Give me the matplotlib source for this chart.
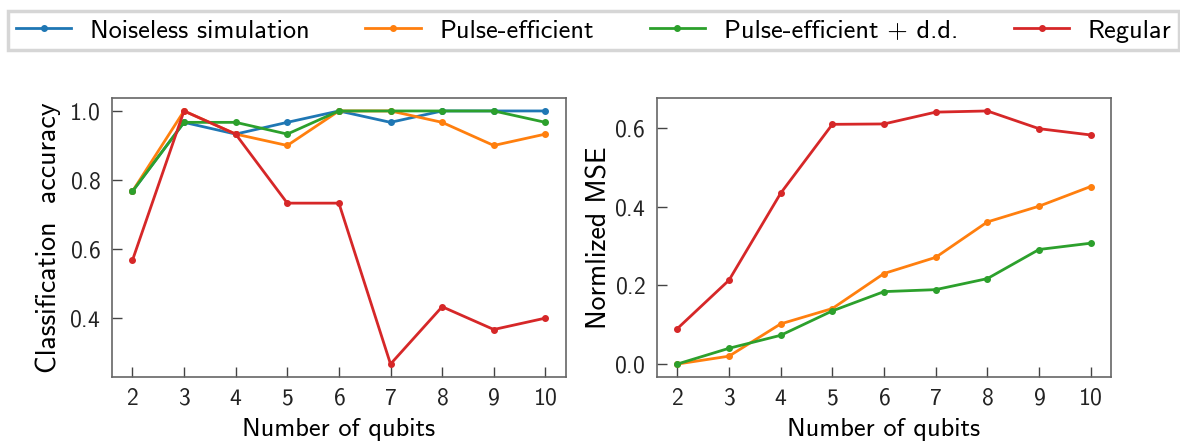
import matplotlib
matplotlib.use("Agg")
import matplotlib.pyplot as plt

plt.rcParams['font.family'] = ['cmss10', 'DejaVu Sans']
plt.rcParams['axes.formatter.use_mathtext'] = True
plt.rcParams['font.size'] = 19

qubits = [2, 3, 4, 5, 6, 7, 8, 9, 10]

# classification accuracy
acc_noiseless = [0.767, 0.967, 0.933, 0.967, 1.0, 0.967, 1.0, 1.0, 1.0]
acc_pulse = [0.767, 1.0, 0.933, 0.9, 1.0, 1.0, 0.967, 0.9, 0.933]
acc_pulse_dd = [0.767, 0.967, 0.967, 0.933, 1.0, 1.0, 1.0, 1.0, 0.967]
acc_regular = [0.567, 1.0, 0.933, 0.733, 0.733, 0.267, 0.433, 0.367, 0.4]

# normalized MSE
mse_pulse = [0.0, 0.02, 0.102, 0.141, 0.230, 0.271, 0.361, 0.401, 0.451]
mse_pulse_dd = [0.0, 0.040, 0.073, 0.135, 0.184, 0.189, 0.217, 0.291, 0.307]
mse_regular = [0.090, 0.213, 0.434, 0.609, 0.610, 0.640, 0.643, 0.598, 0.582]

labels = ["Noiseless simulation", "Pulse-efficient", "Pulse-efficient + d.d.", "Regular"]
colors = ["tab:blue", "tab:orange", "tab:green", "tab:red"]

fig = plt.figure(figsize=(11.8, 4.45), dpi=100)
ax1 = fig.add_axes([0.0947, 0.1535, 0.385, 0.6256])
ax2 = fig.add_axes([0.5565, 0.1535, 0.3853, 0.6256])

kw = dict(marker='o', markersize=4, linewidth=2)
for ys, lab, c in zip([acc_noiseless, acc_pulse, acc_pulse_dd, acc_regular], labels, colors):
    ax1.plot(qubits, ys, color=c, label=lab, **kw)

for ys, c in zip([mse_pulse, mse_pulse_dd, mse_regular], colors[1:]):
    ax2.plot(qubits, ys, color=c, **kw)

ax1.set_ylabel("Classification  accuracy", fontsize=20, labelpad=6)
ax2.set_ylabel("Normlized MSE", fontsize=20, labelpad=2)
ax1.set_yticks([0.4, 0.6, 0.8, 1.0])
ax2.set_yticks([0.0, 0.2, 0.4, 0.6])

for ax in (ax1, ax2):
    ax.set_xlabel("Number of qubits", fontsize=19, labelpad=6)
    ax.set_xticks(qubits)
    ax.tick_params(direction='in', length=7, width=1, color='#444444', pad=8,
                   labelsize=17, labelcolor='#222222')
    for s in ax.spines.values():
        s.set_color('#666666')
        s.set_linewidth(1.2)

leg = fig.legend(loc='upper left', bbox_to_anchor=(0.0068, 0.975), ncol=4,
                 handlelength=2.1, handletextpad=0.7, columnspacing=2.12,
                 borderaxespad=0, fancybox=False, edgecolor='#cccccc',
                 borderpad=0.3, fontsize=19)
leg.get_frame().set_linewidth(2.5)

fig.savefig("out.png", dpi=100)
